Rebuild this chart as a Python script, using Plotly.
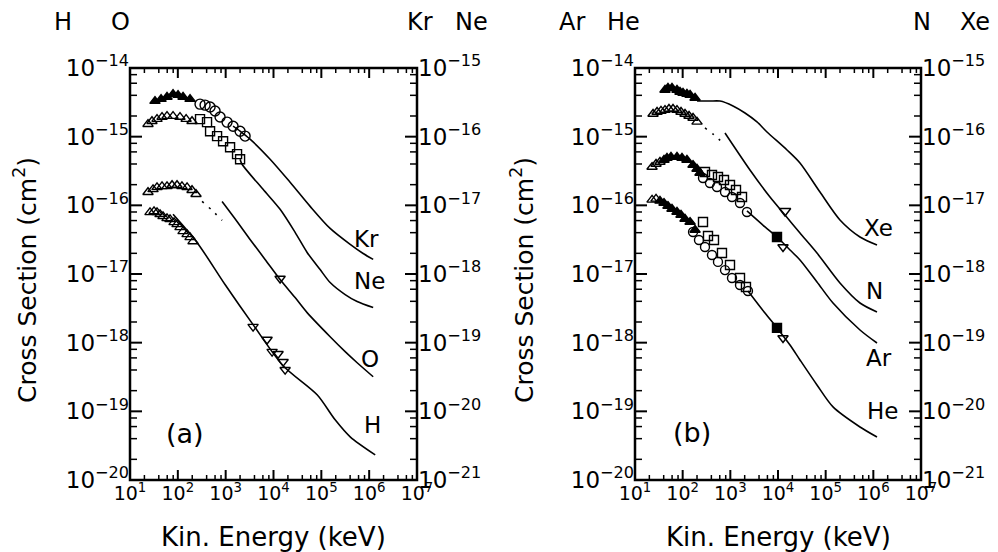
import math
import plotly.graph_objects as go

# ---------------- data ----------------
# Panel (a) -- H and O on the left axis, Kr and Ne on the right axis
kr_tri_E = [33.3, 44.6, 59.4, 79.4, 101, 128.5, 180]
kr_tri_S = [3.30e-16, 3.52e-16, 3.78e-16, 4.17e-16, 4.03e-16, 3.78e-16, 3.52e-16]
kr_circ_E = [291, 371, 472, 600, 764, 1069, 1429, 2000, 2547]
kr_circ_S = [2.98e-16, 2.88e-16, 2.70e-16, 2.36e-16, 1.93e-16, 1.63e-16, 1.42e-16, 1.20e-16, 1.02e-16]
kr_line_E = [1429, 2000, 3236, 8492, 22230, 58340, 152800, 400900, 748200, 1.213e6]
kr_line_S = [1.42e-16, 1.20e-16, 9.20e-17, 4.70e-17, 2.17e-17, 9.66e-18, 4.61e-18, 2.70e-18, 1.99e-18, 1.63e-18]

ne_tri_E = [23.8, 28.8, 36.7, 46.7, 59.4, 79.4, 111, 149, 198]
ne_tri_S = [1.52e-16, 1.68e-16, 1.80e-16, 1.93e-16, 1.99e-16, 1.99e-16, 1.93e-16, 1.80e-16, 1.68e-16]
ne_sq_E = [291, 408, 472, 661, 883, 1236, 1730, 2000]
ne_sq_S = [1.80e-16, 1.63e-16, 1.20e-16, 1.02e-16, 8.59e-17, 7.03e-17, 5.56e-17, 4.70e-17]
ne_line_E = [2000, 2203, 6053, 13740, 28310, 50470, 94410, 152800, 314800, 561000, 1.213e6]
ne_line_S = [4.70e-17, 3.97e-17, 1.71e-17, 8.75e-18, 4.04e-18, 2.06e-18, 1.16e-18, 7.52e-19, 5.02e-19, 3.97e-19, 3.24e-19]

o_tri_E = [23.8, 30.3, 36.7, 46.7, 59.4, 75.7, 96.2, 122, 156, 198, 240]
o_tri_S = [1.55e-16, 1.71e-16, 1.83e-16, 1.89e-16, 1.89e-16, 1.96e-16, 1.96e-16, 1.89e-16, 1.83e-16, 1.66e-16, 1.45e-16]
o_dot_E = [321, 519, 841]
o_dot_S = [1.14e-16, 8.45e-17, 6.04e-17]
o_line_E = [841, 1730, 3236, 6668, 13740, 28310, 50470, 152800, 314800, 561000, 1.213e6]
o_line_S = [1.14e-16, 5.83e-17, 3.19e-17, 1.63e-17, 8.32e-18, 4.54e-18, 2.74e-18, 1.22e-18, 7.40e-19, 5.10e-19, 3.19e-19]
o_inv_E = [13740]
o_inv_S = [8.6e-18]

h_tri_E = [26.2, 31.8, 36.7, 42.5, 49.0, 59.4, 68.7, 83.4, 96.2, 111, 128.5, 156, 180, 208]
h_tri_S = [7.91e-17, 8.17e-17, 7.91e-17, 7.40e-17, 6.90e-17, 6.45e-17, 6.25e-17, 5.65e-17, 5.28e-17,
           4.78e-17, 4.17e-17, 3.78e-17, 3.41e-17, 2.98e-17]
h_line_E = [79.4, 252, 970, 3741, 15890, 81660, 194500, 400900, 1.337e6]
h_line_S = [7.40e-17, 2.88e-17, 7.03e-18, 1.83e-18, 4.61e-19, 1.74e-19, 7.52e-20, 4.25e-20, 2.32e-20]
h_inv_E = [3741, 7345, 9350, 12470, 15890, 17500]
h_inv_S = [1.71e-18, 1.11e-18, 7.40e-19, 6.90e-19, 5.28e-19, 4.04e-19]

# Panel (b) -- Ar and He on the left axis, N and Xe on the right axis
xe_tri_E = [42.6, 49.2, 59.7, 76.0, 87.9, 101.6, 123, 143, 182]
xe_tri_S = [4.79e-16, 5.12e-16, 5.12e-16, 4.79e-16, 4.47e-16, 4.33e-16, 4.18e-16, 4.05e-16, 3.66e-16]
xe_line_E = [200, 374, 607, 1138, 2032, 3622, 5875, 15450, 28910, 76030, 199500, 524800, 1.194e6]
xe_line_S = [3.30e-16, 3.30e-16, 3.30e-16, 2.80e-16, 2.21e-16, 1.64e-16, 1.17e-16, 6.40e-17, 4.14e-17,
             1.56e-17, 6.12e-18, 3.46e-18, 2.64e-18]

n_tri_E = [23.9, 29.0, 35.1, 42.6, 51.6, 62.7, 76.0, 92.3, 112, 136, 165, 200]
n_tri_S = [2.14e-16, 2.29e-16, 2.37e-16, 2.44e-16, 2.53e-16, 2.53e-16, 2.44e-16, 2.29e-16, 2.14e-16,
           2.00e-16, 1.87e-16, 1.64e-16]
n_dot_E = [294, 454, 701]
n_dot_S = [1.34e-16, 1.06e-16, 8.09e-17]
n_line_E = [773, 2582, 6792, 14030, 28910, 65770, 199500, 524800, 1.194e6]
n_line_S = [1.13e-16, 3.27e-17, 1.32e-17, 7.23e-18, 3.95e-18, 2.02e-18, 7.40e-19, 3.78e-19, 2.80e-19]
n_inv_E = [14030]
n_inv_S = [8.26e-18]

ar_otri_E = [22.8, 27.6, 33.4]
ar_otri_S = [3.61e-16, 4.00e-16, 4.28e-16]
ar_ftri_E = [40.6, 46.9, 56.9, 76.0, 96.8, 123, 165, 200, 231]
ar_ftri_S = [4.57e-16, 4.89e-16, 5.06e-16, 5.06e-16, 4.89e-16, 4.57e-16, 3.86e-16, 3.38e-16, 2.96e-16]
ar_sq_E = [294, 412, 551, 736, 984, 1315, 1758]
ar_sq_S = [3.06e-16, 2.77e-16, 2.59e-16, 2.34e-16, 1.98e-16, 1.67e-16, 1.32e-16]
ar_circ_E = [267, 374, 525, 773, 1084, 1596, 2234]
ar_circ_S = [2.50e-16, 2.11e-16, 1.85e-16, 1.56e-16, 1.32e-16, 1.08e-16, 8.00e-17]
ar_line_E = [2234, 5333, 9528, 17860, 28910, 65770, 142600, 524800, 1.194e6]
ar_line_S = [8.28e-17, 4.84e-17, 3.46e-17, 2.24e-17, 1.60e-17, 7.66e-18, 3.78e-18, 1.53e-18, 9.89e-19]
ar_fsq_E = [9528]
ar_fsq_S = [3.46e-17]
ar_inv_E = [12740]
ar_inv_S = [2.47e-17]

he_otri_E = [22.8, 27.6]
he_otri_S = [1.20e-16, 1.24e-16]
he_ftri_E = [33.4, 40.6, 49.2, 59.7, 76.0, 92.3, 112, 143, 182]
he_ftri_S = [1.16e-16, 1.08e-16, 9.77e-17, 8.85e-17, 8.00e-17, 7.23e-17, 6.32e-17, 5.71e-17, 4.38e-17]
he_sq_E = [267, 340, 454, 668, 984, 1596, 2128]
he_sq_S = [5.71e-17, 3.58e-17, 3.13e-17, 2.02e-17, 1.35e-17, 8.75e-18, 6.47e-18]
he_circ_E = [165, 220, 294, 412, 551, 773, 1084, 1596, 2344]
he_circ_S = [4.09e-17, 3.13e-17, 2.47e-17, 1.89e-17, 1.50e-17, 1.14e-17, 8.75e-18, 6.92e-18, 5.66e-18]
he_line_E = [2344, 5333, 9528, 17860, 28910, 65770, 142600, 524800, 1.194e6]
he_line_S = [5.66e-18, 2.70e-18, 1.64e-18, 9.25e-19, 5.60e-19, 2.42e-19, 1.16e-19, 5.92e-20, 4.23e-20]
he_fsq_E = [9528]
he_fsq_S = [1.64e-18]
he_inv_E = [12740]
he_inv_S = [1.17e-18]

x_tick_vals = [1e1, 1e2, 1e3, 1e4, 1e5, 1e6, 1e7]
x_tick_text = ["10<sup>1</sup>", "10<sup>2</sup>", "10<sup>3</sup>", "10<sup>4</sup>",
               "10<sup>5</sup>", "10<sup>6</sup>", "10<sup>7</sup>"]
yl_tick_vals = [1e-20, 1e-19, 1e-18, 1e-17, 1e-16, 1e-15, 1e-14]
yl_tick_text = ["10<sup>\u221220</sup>", "10<sup>\u221219</sup>", "10<sup>\u221218</sup>",
                "10<sup>\u221217</sup>", "10<sup>\u221216</sup>", "10<sup>\u221215</sup>",
                "10<sup>\u221214</sup>"]
yr_tick_vals = [1e-21, 1e-20, 1e-19, 1e-18, 1e-17, 1e-16, 1e-15]
yr_tick_text = ["10<sup>\u221221</sup>", "10<sup>\u221220</sup>", "10<sup>\u221219</sup>",
                "10<sup>\u221218</sup>", "10<sup>\u221217</sup>", "10<sup>\u221216</sup>",
                "10<sup>\u221215</sup>"]
minor_mults = [2, 4, 6, 8]

# ---------------- figure ----------------
FONT = "DejaVu Sans"
K = "black"
fig = go.Figure()


def line(E, S, xa, ya, dash="solid"):
    fig.add_trace(go.Scatter(x=E, y=S, mode="lines", xaxis=xa, yaxis=ya,
                             line=dict(color=K, width=1.6, dash=dash, shape="spline", smoothing=0.8),
                             showlegend=False, hoverinfo="skip"))


def pts(E, S, xa, ya, symbol, size=9):
    fig.add_trace(go.Scatter(x=E, y=S, mode="markers", xaxis=xa, yaxis=ya,
                             marker=dict(symbol=symbol, size=size, color=K,
                                         line=dict(color=K, width=1.4)),
                             showlegend=False))


DOTS = "2px,7px"
# panel (a)
line(kr_line_E, kr_line_S, "x", "y2")
pts(kr_tri_E, kr_tri_S, "x", "y2", "triangle-up")
pts(kr_circ_E, kr_circ_S, "x", "y2", "circle-open", 10)
line(ne_line_E, ne_line_S, "x", "y2")
pts(ne_tri_E, ne_tri_S, "x", "y2", "triangle-up-open")
pts(ne_sq_E, ne_sq_S, "x", "y2", "square-open")
line(o_line_E, o_line_S, "x", "y")
line(o_dot_E, o_dot_S, "x", "y", DOTS)
pts(o_tri_E, o_tri_S, "x", "y", "triangle-up-open")
pts(o_inv_E, o_inv_S, "x", "y", "triangle-down-open")
line(h_line_E, h_line_S, "x", "y")
pts(h_tri_E, h_tri_S, "x", "y", "triangle-up-open")
pts(h_inv_E, h_inv_S, "x", "y", "triangle-down-open")

# panel (b)
line(xe_line_E, xe_line_S, "x2", "y4")
pts(xe_tri_E, xe_tri_S, "x2", "y4", "triangle-up")
line(n_line_E, n_line_S, "x2", "y4")
line(n_dot_E, n_dot_S, "x2", "y4", DOTS)
pts(n_tri_E, n_tri_S, "x2", "y4", "triangle-up-open")
pts(n_inv_E, n_inv_S, "x2", "y4", "triangle-down-open", 10)
line(ar_line_E, ar_line_S, "x2", "y3")
pts(ar_otri_E, ar_otri_S, "x2", "y3", "triangle-up-open")
pts(ar_ftri_E, ar_ftri_S, "x2", "y3", "triangle-up")
pts(ar_sq_E, ar_sq_S, "x2", "y3", "square-open")
pts(ar_circ_E, ar_circ_S, "x2", "y3", "circle-open")
pts(ar_fsq_E, ar_fsq_S, "x2", "y3", "square")
pts(ar_inv_E, ar_inv_S, "x2", "y3", "triangle-down-open")
line(he_line_E, he_line_S, "x2", "y3")
pts(he_otri_E, he_otri_S, "x2", "y3", "triangle-up-open")
pts(he_ftri_E, he_ftri_S, "x2", "y3", "triangle-up")
pts(he_sq_E, he_sq_S, "x2", "y3", "square-open")
pts(he_circ_E, he_circ_S, "x2", "y3", "circle-open")
pts(he_fsq_E, he_fsq_S, "x2", "y3", "square")
pts(he_inv_E, he_inv_S, "x2", "y3", "triangle-down-open")

# page has an 8px body margin: work in window pixels and shift
OFF = 8
W, H = 990, 544


def PX(x):
    return (x - OFF) / W


def PY(y):
    return 1 - (y - OFF) / H


XD1 = [PX(130), PX(417)]
XD2 = [PX(635), PX(921)]
YD = [PY(480), PY(68)]
PLOT_H = 412          # plot-area height in px
PLOT_W1, PLOT_W2 = 287, 286
X_RANGE = [1, 7]
YL_RANGE = [-20, -14]
YR_RANGE = [-21, -15]

x_minor = [m * 10 ** d for d in range(1, 7) for m in minor_mults]
y_minor = [m * 10.0 ** d for d in range(-20, -14) for m in minor_mults]


def scale_ax(vals, text, fsize, **kw):
    # the axis supplies the log scale and the tick labels; the frame and the
    # tick marks are added below as shapes on the axes' domains
    return dict(type="log", showgrid=False, zeroline=False, showline=False,
                automargin=False, ticks="", tickmode="array", tickvals=vals, ticktext=text,
                tickfont=dict(family=FONT, size=fsize, color=K), **kw)


fig.update_layout(
    width=W, height=H, margin=dict(l=0, r=0, t=0, b=0, autoexpand=False),
    paper_bgcolor="white", plot_bgcolor="white", showlegend=False,
    font=dict(family=FONT, color=K),
    xaxis=scale_ax(x_tick_vals, x_tick_text, 19, domain=XD1, anchor="y", range=X_RANGE),
    yaxis=scale_ax(yl_tick_vals, yl_tick_text, 23, domain=YD, anchor="x", range=YL_RANGE),
    yaxis2=scale_ax(yr_tick_vals, yr_tick_text, 23, overlaying="y", side="right",
                    anchor="x", range=YR_RANGE),
    xaxis2=scale_ax(x_tick_vals, x_tick_text, 19, domain=XD2, anchor="y3", range=X_RANGE),
    yaxis3=scale_ax(yl_tick_vals, yl_tick_text, 23, domain=YD, anchor="x2", range=YL_RANGE),
    yaxis4=scale_ax(yr_tick_vals, yr_tick_text, 23, overlaying="y3", side="right",
                    anchor="x2", range=YR_RANGE),
)


# fraction of an axis domain at which a value lies on that axis' log scale
def frac(v, rng):
    return (math.log10(v) - rng[0]) / (rng[1] - rng[0])


shapes = []


def frame_and_ticks(xa, ya, plot_w):
    xd, yd = xa + " domain", ya + " domain"
    for vals, ln, wd in [(x_tick_vals, 10, 2), (x_minor, 5, 1.5)]:
        for v in vals:
            f = frac(v, X_RANGE)
            for y0, y1 in [(0, ln / PLOT_H), (1, 1 - ln / PLOT_H)]:
                shapes.append(dict(type="line", layer="above", xref=xd, yref=yd,
                                   x0=f, x1=f, y0=y0, y1=y1, line=dict(color=K, width=wd)))
    for vals, ln, wd in [(yl_tick_vals, 12, 2), (y_minor, 7, 1.5)]:
        for v in vals:
            f = frac(v, YL_RANGE)
            for x0, x1 in [(0, ln / plot_w), (1, 1 - ln / plot_w)]:
                shapes.append(dict(type="line", layer="above", xref=xd, yref=yd,
                                   x0=x0, x1=x1, y0=f, y1=f, line=dict(color=K, width=wd)))
    shapes.append(dict(type="rect", layer="above", xref=xd, yref=yd,
                       x0=0, x1=1, y0=0, y1=1, fillcolor="rgba(0,0,0,0)",
                       line=dict(color=K, width=2.5)))


frame_and_ticks("x", "y", PLOT_W1)
frame_and_ticks("x2", "y3", PLOT_W2)
fig.update_layout(shapes=shapes)


def txt(x, y, s, size=24, angle=0):
    fig.add_annotation(x=PX(x), y=PY(y), xref="paper", yref="paper", text=s,
                       showarrow=False, textangle=angle, xanchor="center", yanchor="middle",
                       font=dict(family=FONT, size=size, color=K))


# species headers above the axes
for s, x in [("H", 63), ("O", 120), ("Kr", 420), ("Ne", 471),
             ("Ar", 572), ("He", 623), ("N", 922), ("Xe", 975)]:
    txt(x, 22, s, 24)

# curve labels
for s, x, y in [("Kr", 366, 239), ("Ne", 369, 281), ("O", 370, 359), ("H", 372, 425),
                ("Xe", 878, 228), ("N", 874, 291), ("Ar", 879, 358), ("He", 882, 411)]:
    txt(x, y, s, 23)
txt(185, 433, "(a)", 27)
txt(692, 432, "(b)", 27)

# axis titles
txt(273, 537, "Kin. Energy (keV)", 26)
txt(778, 537, "Kin. Energy (keV)", 26)
txt(25, 280, "Cross Section (cm<sup>2</sup>)", 25, -90)
txt(522, 280, "Cross Section (cm<sup>2</sup>)", 25, -90)

fig.write_html("out.html")
